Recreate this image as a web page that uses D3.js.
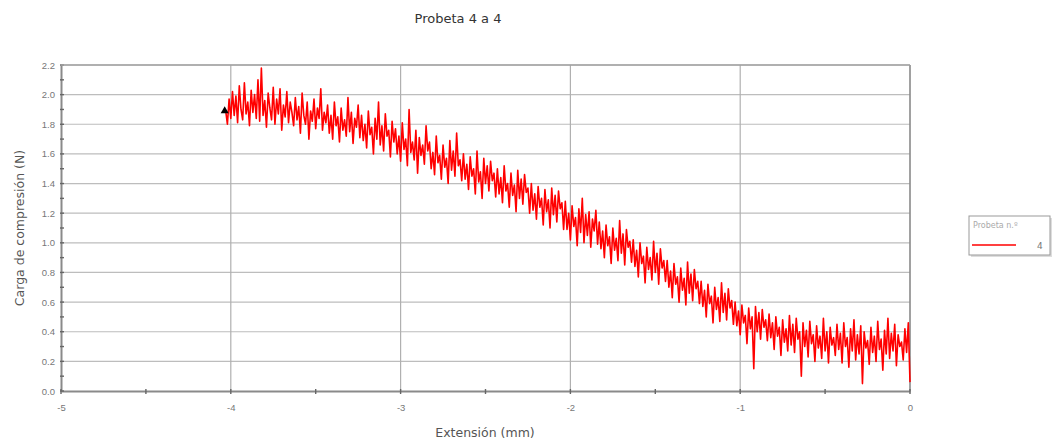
<!DOCTYPE html>
<html>
<head>
<meta charset="utf-8">
<script src="https://cdn.jsdelivr.net/npm/d3@7"></script>
<style>
  body { margin: 0; background: #fff; }
  svg { font-family: "DejaVu Sans", Verdana, sans-serif; }
</style>
</head>
<body>
<div id="chart"></div>
<script>
// Données
const titre = "Probeta 4 a 4";
const xTicks = [-5, -4, -3, -2, -1, 0];
const yTicks = [0.0, 0.2, 0.4, 0.6, 0.8, 1.0, 1.2, 1.4, 1.6, 1.8, 2.0, 2.2];
const xDebut = -4.03;   // première extension (mm)
const xPas = 0.01;      // pas d'échantillonnage
const charge = [
  1.89, 1.80, 1.97, 1.84, 2.02, 1.86, 1.99, 1.81, 2.06, 1.90, 1.83, 2.08, 1.87, 1.95, 1.79, 2.03, 1.88, 2.00, 1.84, 2.10,
  1.82, 2.18, 1.86, 1.96, 1.78, 2.01, 1.91, 1.83, 2.05, 1.80, 1.97, 1.87, 2.04, 1.76, 1.93, 1.85, 2.02, 1.81, 1.95, 1.88,
  1.79, 1.98, 1.83, 1.92, 1.74, 2.01, 1.86, 1.80, 1.95, 1.70, 1.89, 1.82, 1.97, 1.77, 1.91, 1.84, 2.04, 1.76, 1.88, 1.81,
  1.93, 1.74, 1.86, 1.70, 1.95, 1.79, 1.85, 1.68, 1.91, 1.76, 1.83, 1.72, 1.98, 1.75, 1.88, 1.67, 1.84, 1.78, 1.93, 1.71,
  1.86, 1.69, 1.80, 1.64, 1.89, 1.73, 1.78, 1.60, 1.84, 1.70, 1.95, 1.66, 1.79, 1.62, 1.87, 1.72, 1.76, 1.58, 1.82, 1.68,
  1.77, 1.60, 1.72, 1.55, 1.81, 1.63, 1.70, 1.52, 1.90, 1.61, 1.68, 1.56, 1.76, 1.47, 1.71, 1.59, 1.66, 1.53, 1.79, 1.62,
  1.68, 1.50, 1.61, 1.46, 1.72, 1.54, 1.59, 1.43, 1.66, 1.51, 1.57, 1.40, 1.69, 1.49, 1.62, 1.45, 1.74, 1.52, 1.56, 1.42,
  1.60, 1.43, 1.53, 1.36, 1.58, 1.45, 1.50, 1.33, 1.62, 1.41, 1.48, 1.30, 1.57, 1.40, 1.52, 1.35, 1.55, 1.42, 1.47, 1.31,
  1.50, 1.33, 1.44, 1.27, 1.52, 1.35, 1.40, 1.24, 1.47, 1.32, 1.39, 1.21, 1.49, 1.30, 1.43, 1.26, 1.46, 1.34, 1.37, 1.20,
  1.40, 1.22, 1.33, 1.16, 1.38, 1.24, 1.30, 1.12, 1.36, 1.21, 1.29, 1.10, 1.37, 1.19, 1.32, 1.14, 1.35, 1.23, 1.27, 1.09,
  1.28, 1.09, 1.20, 1.02, 1.25, 1.11, 1.17, 0.98, 1.23, 1.07, 1.30, 1.00, 1.19, 1.05, 1.21, 0.97, 1.16, 1.08, 1.22, 0.99,
  1.14, 0.96, 1.08, 0.90, 1.12, 0.98, 1.04, 0.86, 1.10, 0.95, 1.03, 0.88, 1.15, 0.93, 1.06, 0.85, 1.09, 0.97, 1.01, 0.87,
  1.02, 0.84, 0.95, 0.77, 1.00, 0.86, 0.91, 0.73, 0.97, 0.82, 0.90, 0.75, 1.01, 0.80, 0.93, 0.72, 0.96, 0.83, 0.88, 0.74,
  0.88, 0.70, 0.81, 0.63, 0.86, 0.72, 0.77, 0.60, 0.83, 0.68, 0.76, 0.58, 0.87, 0.66, 0.79, 0.61, 0.82, 0.69, 0.74, 0.59,
  0.74, 0.57, 0.68, 0.50, 0.72, 0.59, 0.64, 0.46, 0.70, 0.55, 0.63, 0.47, 0.73, 0.53, 0.66, 0.48, 0.69, 0.56, 0.61, 0.45,
  0.60, 0.44, 0.54, 0.38, 0.58, 0.46, 0.51, 0.32, 0.56, 0.42, 0.50, 0.15, 0.57, 0.40, 0.53, 0.35, 0.55, 0.43, 0.48, 0.34,
  0.52, 0.36, 0.46, 0.28, 0.50, 0.37, 0.43, 0.24, 0.48, 0.33, 0.42, 0.27, 0.51, 0.31, 0.45, 0.26, 0.49, 0.35, 0.40, 0.10,
  0.46, 0.30, 0.41, 0.23, 0.47, 0.32, 0.38, 0.20, 0.44, 0.29, 0.37, 0.22, 0.49, 0.27, 0.40, 0.19, 0.43, 0.31, 0.36, 0.24,
  0.45, 0.28, 0.39, 0.19, 0.46, 0.30, 0.36, 0.16, 0.42, 0.27, 0.48, 0.21, 0.38, 0.25, 0.44, 0.05, 0.40, 0.29, 0.34, 0.18,
  0.43, 0.26, 0.37, 0.20, 0.47, 0.28, 0.35, 0.14, 0.41, 0.25, 0.49, 0.22, 0.39, 0.27, 0.45, 0.17, 0.38, 0.30, 0.33, 0.21,
  0.42, 0.26, 0.46, 0.06
];
const marqueur = [{ x: -4.03, y: 1.89 }]; // triangle noir au début

const width = 1061, height = 446;
const margin = { top: 65, right: 151, bottom: 55, left: 61 };

const svg = d3.select("#chart")
    .append("svg")
    .attr("width", width)
    .attr("height", height);

const x = d3.scaleLinear().domain([-5, 0]).range([margin.left, width - margin.right]);
const y = d3.scaleLinear().domain([0, 2.2]).range([height - margin.bottom, margin.top]);

// Titre
svg.append("text")
    .attr("x", 458).attr("y", 23)
    .attr("text-anchor", "middle")
    .attr("font-size", 13)
    .attr("fill", "#333")
    .text(titre);

// Grille
svg.append("g")
    .selectAll("line")
    .data(yTicks.slice(1))
    .enter().append("line")
    .attr("x1", x(-5)).attr("x2", x(0))
    .attr("y1", d => y(d)).attr("y2", d => y(d))
    .attr("stroke", "#bdbdbd").attr("stroke-width", 1.2);

svg.append("g")
    .selectAll("line")
    .data(xTicks.slice(1))
    .enter().append("line")
    .attr("x1", d => x(d)).attr("x2", d => x(d))
    .attr("y1", y(0)).attr("y2", y(2.2))
    .attr("stroke", d => d === 0 ? "#8a8a8a" : "#b0b0b0")
    .attr("stroke-width", d => d === 0 ? 1.6 : 1.2);

// Axes
const axeX = d3.axisBottom(x).tickValues(xTicks).tickSize(0).tickPadding(13)
    .tickFormat(d => d3.format("d")(d).replace("−", "-"));
const gX = svg.append("g")
    .attr("transform", "translate(0," + y(0) + ")")
    .call(axeX);

const axeY = d3.axisLeft(y).tickValues(yTicks).tickSize(0).tickPadding(6)
    .tickFormat(d3.format(".1f"));
const gY = svg.append("g")
    .attr("transform", "translate(" + x(-5) + ",0)")
    .call(axeY);

[gX, gY].forEach(g => {
    g.select(".domain").attr("stroke", "#8a8a8a").attr("stroke-width", 2);
    g.selectAll("text").attr("fill", "#777").attr("font-size", 9.5);
});

// Petites graduations
const minX = d3.range(-5, 0.01, 0.5);
svg.append("g")
    .selectAll("line")
    .data(minX)
    .enter().append("line")
    .attr("x1", d => x(d)).attr("x2", d => x(d))
    .attr("y1", y(0) - 2).attr("y2", y(0) + 3)
    .attr("stroke", "#666").attr("stroke-width", 1.4);

const minY = d3.range(0, 2.21, 0.1);
svg.append("g")
    .selectAll("line")
    .data(minY)
    .enter().append("line")
    .attr("x1", x(-5) - 1).attr("x2", x(-5) + 3)
    .attr("y1", d => y(d)).attr("y2", d => y(d))
    .attr("stroke", "#666").attr("stroke-width", 1.4);

// Cadre haut
svg.append("line")
    .attr("x1", x(-5)).attr("x2", x(0))
    .attr("y1", y(2.2)).attr("y2", y(2.2))
    .attr("stroke", "#a0a0a0").attr("stroke-width", 1.6);

// Libellés des axes
svg.append("text")
    .attr("x", 485).attr("y", 437)
    .attr("text-anchor", "middle")
    .attr("font-size", 12.5)
    .attr("fill", "#555")
    .text("Extensión (mm)");

svg.append("text")
    .attr("transform", "translate(24," + y(1.1) + ") rotate(-90)")
    .attr("text-anchor", "middle")
    .attr("font-size", 12.5)
    .attr("fill", "#555")
    .text("Carga de compresión (N)");

// Courbe
const ligne = d3.line()
    .x((d, i) => x(xDebut + i * xPas))
    .y(d => y(d));

svg.append("path")
    .datum(charge)
    .attr("fill", "none")
    .attr("stroke", "#ff0000")
    .attr("stroke-width", 1.6)
    .attr("stroke-linejoin", "round")
    .attr("d", ligne);

svg.selectAll(".marqueur")
    .data(marqueur)
    .enter().append("path")
    .attr("class", "marqueur")
    .attr("d", d3.symbol().type(d3.symbolTriangle).size(28))
    .attr("transform", d => "translate(" + (x(d.x) - 1) + "," + y(d.y) + ")")
    .attr("fill", "#000");

// Légende
const leg = svg.append("g").attr("transform", "translate(969,216)");
leg.append("rect")
    .attr("x", 2).attr("y", 2).attr("width", 81).attr("height", 39)
    .attr("fill", "#ddd");
leg.append("rect")
    .attr("x", 0).attr("y", 0).attr("width", 81).attr("height", 39)
    .attr("fill", "#fff").attr("stroke", "#999").attr("stroke-width", 1);
leg.append("text")
    .attr("x", 4).attr("y", 12)
    .attr("font-size", 8)
    .attr("fill", "#aaa")
    .text("Probeta n.º");
leg.append("line")
    .attr("x1", 3).attr("x2", 47).attr("y1", 29).attr("y2", 29)
    .attr("stroke", "#ff0000").attr("stroke-width", 1.6);
leg.append("text")
    .attr("x", 68).attr("y", 33)
    .attr("font-size", 9)
    .attr("fill", "#777")
    .text("4");
</script>
</body>
</html>
